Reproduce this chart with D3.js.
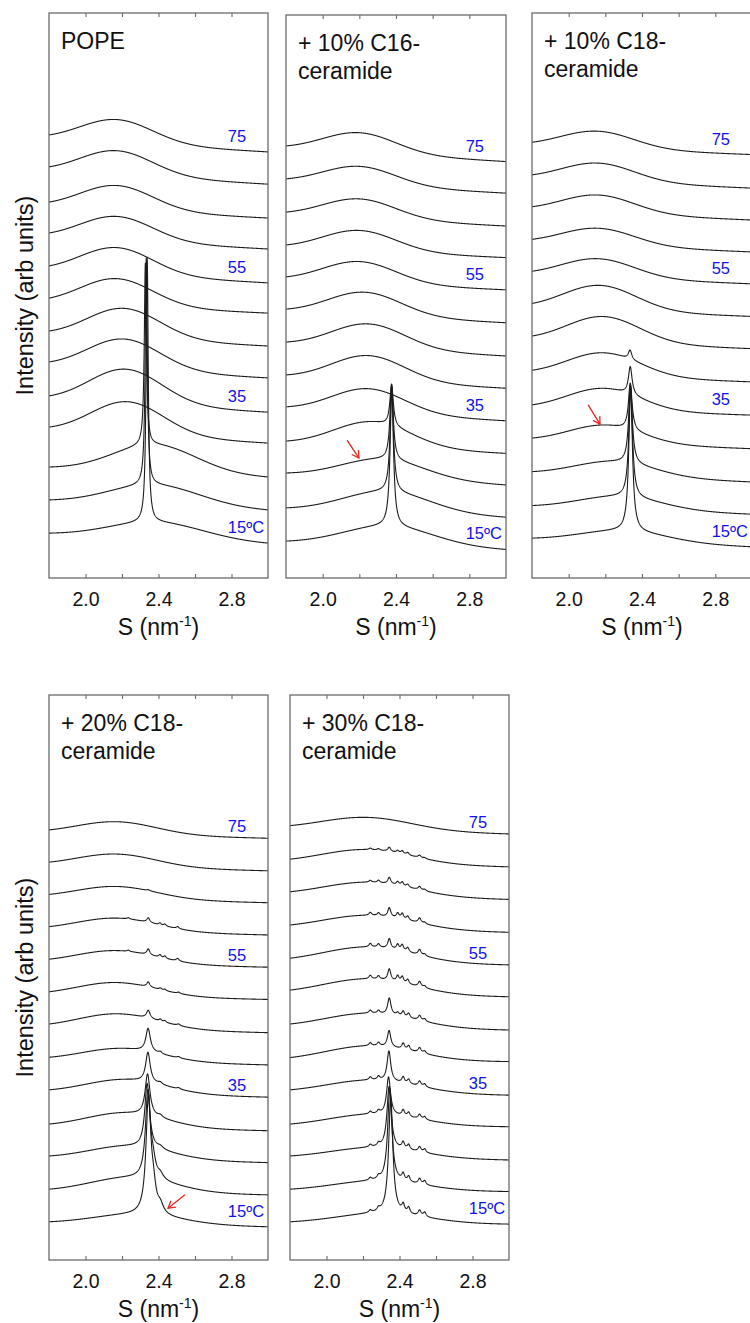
<!DOCTYPE html>
<html>
<head>
<meta charset="utf-8">
<script src="https://cdn.jsdelivr.net/npm/d3@7"></script>
<style>
  body { margin: 0; background: #fff; }
  svg { display: block; font-family: "Liberation Sans", Arial, sans-serif; }
</style>
</head>
<body>
<svg id="chart" width="750" height="1323"></svg>
<script>
'use strict';

// temperatures, bottom curve first
const temps = [15, 20, 25, 30, 35, 40, 45, 50, 55, 60, 65, 70, 75];
const labelIndex = [0, 4, 8, 12];
const labelText = ["15ºC", "35", "55", "75"];
const tickValues = [2.0, 2.2, 2.4, 2.6, 2.8];
const tickLabelValues = [2.0, 2.4, 2.8];

const panelTitles = [
  ["POPE"],
  ["+ 10% C16-", "ceramide"],
  ["+ 10% C18-", "ceramide"],
  ["+ 20% C18-", "ceramide"],
  ["+ 30% C18-", "ceramide"]
];

// each curve: level at left and right edge, a broad hump, and sharp reflections [S, height, half width]
const popeLeft = [13.5, 23.5, 33.4, 45.4, 54.8, 65.0, 74.3, 84.2, 93.9, 103.8, 113.1, 123.7, 133.3];
const popeRight = [10.5, 20.5, 30.4, 40.6, 49.9, 60.2, 69.8, 79.7, 88.8, 99.0, 108.3, 118.5, 128.2];
const popeHumpCenter = [2.39, 2.38, 2.38, 2.23, 2.22, 2.21, 2.21, 2.17, 2.17, 2.17, 2.17, 2.17, 2.17];
const popeHumpHeight = [5.1, 6.3, 8.4, 10.0, 10.5, 9.3, 9.1, 8.3, 8.1, 7.4, 7.4, 7.4, 7.1];
const popeHumpWidth = [0.26, 0.25, 0.23, 0.2, 0.2, 0.2, 0.2, 0.2, 0.2, 0.2, 0.2, 0.2, 0.2];
const popePeaks = [
  [[2.338, 79.7, 0.007]],
  [[2.333, 68.3, 0.007]],
  [[2.328, 54.8, 0.007]],
  [], [], [], [], [], [], [], [], [], []
];

const c16Left = [11.1, 21.1, 31.6, 41.2, 51.5, 61.1, 71.0, 80.9, 90.6, 100.2, 110.1, 120.1, 130.0];
const c16Right = [8.6, 18.3, 28.0, 37.5, 47.3, 57.1, 66.8, 76.8, 86.7, 96.4, 105.9, 115.8, 125.3];
const c16HumpCenter = [2.36, 2.35, 2.33, 2.27, 2.25, 2.25, 2.25, 2.23, 2.2, 2.2, 2.2, 2.2, 2.2];
const c16HumpHeight = [6.0, 6.5, 6.0, 7.6, 7.4, 7.7, 7.4, 7.0, 6.5, 6.2, 5.9, 5.7, 6.1];
const c16HumpWidth = [0.25, 0.24, 0.23, 0.21, 0.2, 0.2, 0.2, 0.2, 0.2, 0.2, 0.2, 0.2, 0.2];
const c16Peaks = [
  [[2.377, 41.0, 0.011]],
  [[2.377, 31.6, 0.011]],
  [[2.376, 22.5, 0.011]],
  [[2.376, 12.6, 0.011]],
  [], [], [], [], [], [], [], [], []
];

const c18aLeft = [12.0, 21.8, 32.0, 42.1, 52.1, 62.5, 72.8, 82.6, 92.3, 101.9, 111.7, 121.3, 131.1];
const c18aRight = [9.4, 19.2, 28.9, 38.9, 49.0, 59.0, 69.0, 78.7, 88.5, 98.1, 107.7, 117.3, 127.4];
const c18aHumpCenter = [2.3, 2.28, 2.25, 2.2, 2.19, 2.19, 2.19, 2.17, 2.16, 2.16, 2.16, 2.16, 2.155];
const c18aHumpHeight = [3.5, 4.0, 4.5, 5.4, 6.6, 7.1, 7.9, 7.6, 5.7, 5.2, 5.5, 5.5, 5.2];
const c18aHumpWidth = [0.24, 0.23, 0.22, 0.2, 0.2, 0.2, 0.2, 0.2, 0.2, 0.2, 0.2, 0.2, 0.2];
const c18aPeaks = [
  [[2.338, 43.0, 0.012]],
  [[2.338, 33.2, 0.012]],
  [[2.337, 23.7, 0.012]],
  [[2.336, 14.1, 0.012]],
  [[2.336, 8.4, 0.012]],
  [[2.335, 2.8, 0.011]],
  [], [], [], [], [], [], []
];

const c18bLeft = [11.5, 21.3, 31.3, 40.9, 51.2, 61.0, 71.0, 80.7, 90.5, 100.3, 110.0, 119.7, 129.4];
const c18bRight = [10.0, 19.6, 29.3, 38.9, 49.0, 58.7, 68.4, 78.4, 88.1, 97.8, 107.5, 117.1, 126.9];
const c18bHumpCenter = [2.28, 2.25, 2.24, 2.22, 2.22, 2.2, 2.18, 2.17, 2.17, 2.17, 2.17, 2.17, 2.17];
const c18bHumpHeight = [3.0, 4.5, 4.0, 4.5, 4.3, 3.9, 4.6, 4.2, 4.0, 4.0, 3.8, 3.9, 3.9];
const c18bHumpWidth = [0.24, 0.23, 0.22, 0.22, 0.22, 0.22, 0.22, 0.22, 0.22, 0.22, 0.22, 0.22, 0.22];
const c18bPeaks = [
  [[2.345, 35.0, 0.016], [2.372, 6.0, 0.016], [2.41, 2.5, 0.02]],
  [[2.342, 26.0, 0.016], [2.37, 4.0, 0.016], [2.41, 1.5, 0.02]],
  [[2.338, 19.4, 0.016], [2.41, 0.8, 0.02]],
  [[2.34, 12.5, 0.016], [2.41, 0.7, 0.015]],
  [[2.342, 9.0, 0.015], [2.41, 0.6, 0.012], [2.51, 0.4, 0.01]],
  [[2.343, 7.0, 0.015], [2.41, 0.6, 0.01], [2.51, 0.4, 0.01]],
  [[2.344, 2.4, 0.012], [2.41, 0.6, 0.008], [2.435, 0.5, 0.008], [2.51, 0.5, 0.01]],
  [[2.344, 1.5, 0.01], [2.41, 0.5, 0.008], [2.435, 0.4, 0.008], [2.51, 0.4, 0.01]],
  [[2.235, 0.4, 0.008], [2.344, 1.8, 0.01], [2.408, 0.8, 0.008], [2.435, 0.7, 0.008], [2.505, 0.8, 0.01]],
  [[2.235, 0.4, 0.008], [2.344, 1.4, 0.01], [2.408, 0.6, 0.008], [2.435, 0.6, 0.008], [2.505, 0.6, 0.01]],
  [[2.344, 0.3, 0.01]],
  [], []
];

const c18cLeft = [11.5, 21.3, 31.3, 40.9, 51.2, 60.9, 71.0, 81.2, 90.8, 100.8, 110.8, 120.6, 130.7];
const c18cRight = [10.8, 20.6, 30.1, 40.1, 49.6, 59.7, 69.2, 79.2, 88.8, 98.6, 108.5, 118.3, 128.2];
const c18cHumpCenter = [2.3, 2.28, 2.27, 2.26, 2.25, 2.24, 2.24, 2.23, 2.23, 2.23, 2.23, 2.22, 2.22];
const c18cHumpHeight = [3.0, 3.0, 3.3, 3.7, 4.0, 4.6, 4.5, 4.8, 4.8, 4.3, 4.3, 4.4, 4.0];
const c18cHumpWidth = [0.25, 0.25, 0.25, 0.25, 0.25, 0.25, 0.25, 0.25, 0.25, 0.25, 0.25, 0.25, 0.25];
const c18cPeaks = [
  [[2.24, 0.75, 0.009], [2.285, 0.9, 0.009], [2.352, 34.8, 0.014], [2.42, 2.25, 0.009], [2.45, 1.8, 0.009], [2.51, 1.65, 0.01], [2.538, 1.35, 0.009]],
  [[2.24, 0.75, 0.009], [2.285, 0.9, 0.009], [2.347, 28.0, 0.014], [2.42, 2.1, 0.009], [2.45, 1.65, 0.009], [2.51, 1.65, 0.01], [2.538, 1.2, 0.009]],
  [[2.24, 0.75, 0.009], [2.285, 0.9, 0.009], [2.343, 18.6, 0.014], [2.42, 1.95, 0.009], [2.45, 1.5, 0.009], [2.51, 1.5, 0.01], [2.538, 1.05, 0.009]],
  [[2.24, 0.75, 0.009], [2.285, 0.9, 0.009], [2.34, 11.4, 0.013], [2.42, 1.8, 0.009], [2.45, 1.35, 0.009], [2.51, 1.35, 0.01], [2.538, 0.9, 0.009]],
  [[2.24, 0.9, 0.009], [2.285, 1.05, 0.009], [2.342, 9.1, 0.012], [2.42, 1.8, 0.009], [2.45, 1.35, 0.009], [2.51, 1.5, 0.01], [2.538, 0.9, 0.009]],
  [[2.24, 0.9, 0.009], [2.285, 1.05, 0.009], [2.343, 5.0, 0.011], [2.42, 1.8, 0.009], [2.45, 1.35, 0.009], [2.51, 1.5, 0.01], [2.538, 0.75, 0.009]],
  [[2.24, 0.9, 0.009], [2.285, 0.9, 0.009], [2.344, 5.0, 0.011], [2.39, 0.9, 0.009], [2.42, 1.65, 0.009], [2.45, 1.35, 0.009], [2.51, 1.5, 0.01], [2.538, 0.75, 0.009]],
  [[2.24, 1.05, 0.009], [2.285, 1.05, 0.009], [2.344, 3.5, 0.01], [2.39, 1.8, 0.009], [2.415, 1.8, 0.009], [2.445, 1.35, 0.009], [2.51, 1.65, 0.01], [2.538, 0.6, 0.009]],
  [[2.24, 1.05, 0.009], [2.285, 1.05, 0.009], [2.344, 3.0, 0.01], [2.39, 1.65, 0.009], [2.415, 1.8, 0.009], [2.445, 1.35, 0.009], [2.51, 1.65, 0.01], [2.538, 0.6, 0.009]],
  [[2.24, 0.9, 0.009], [2.285, 0.9, 0.009], [2.344, 2.8, 0.01], [2.39, 1.5, 0.009], [2.415, 1.65, 0.009], [2.445, 1.2, 0.009], [2.51, 1.5, 0.01], [2.538, 0.45, 0.009]],
  [[2.24, 0.6, 0.009], [2.285, 0.75, 0.009], [2.344, 2.0, 0.01], [2.39, 1.05, 0.009], [2.415, 1.2, 0.009], [2.445, 0.9, 0.009], [2.51, 1.05, 0.01], [2.538, 0.45, 0.009]],
  [[2.24, 0.45, 0.009], [2.285, 0.45, 0.009], [2.344, 1.3, 0.01], [2.39, 0.75, 0.009], [2.415, 0.9, 0.009], [2.445, 0.75, 0.009], [2.51, 0.75, 0.01], [2.538, 0.3, 0.009]],
  []
];

// red arrows: panel, tail S, tail level, head S, head level
const arrows = [
  [1, 2.133, 41.5, 2.198, 36.1],
  [2, 2.106, 52.1, 2.171, 46.3],
  [3, 2.545, 19.6, 2.452, 15.6]
];

const sDomain = [1.8, 3.0];
const levelDomain = [0, 170];

// panel frames (px)
const panels = [
  { x0: 49, x1: 268, top: 13, bottom: 578 },
  { x0: 286, x1: 506, top: 15, bottom: 578 },
  { x0: 532, x1: 752, top: 13, bottom: 578 },
  { x0: 49, x1: 268, top: 695, bottom: 1260 },
  { x0: 290, x1: 509, top: 695, bottom: 1260 }
];
const series = [
  { left: popeLeft, right: popeRight, c: popeHumpCenter, h: popeHumpHeight, w: popeHumpWidth, peaks: popePeaks },
  { left: c16Left, right: c16Right, c: c16HumpCenter, h: c16HumpHeight, w: c16HumpWidth, peaks: c16Peaks },
  { left: c18aLeft, right: c18aRight, c: c18aHumpCenter, h: c18aHumpHeight, w: c18aHumpWidth, peaks: c18aPeaks },
  { left: c18bLeft, right: c18bRight, c: c18bHumpCenter, h: c18bHumpHeight, w: c18bHumpWidth, peaks: c18bPeaks },
  { left: c18cLeft, right: c18cRight, c: c18cHumpCenter, h: c18cHumpHeight, w: c18cHumpWidth, peaks: c18cPeaks }
];

const font = '"Liberation Sans", Arial, sans-serif';
const frameColor = "#6a6a6a";
const svg = d3.select("#chart");

// hump + reflections at S, then a straight background so the ends sit on the read levels
function profile(d, i, s) {
  let v = d.h[i] * Math.exp(-((s - d.c[i]) ** 2) / (2 * d.w[i] * d.w[i]));
  for (const [s0, a, g] of d.peaks[i]) {
    v += a * g * g / ((s - s0) ** 2 + g * g);
  }
  return v;
}

function curvePoints(d, i) {
  const l = d.left[i] - profile(d, i, sDomain[0]);
  const r = d.right[i] - profile(d, i, sDomain[1]);
  const pts = [];
  for (let k = 0; k <= 1200; k++) {
    const s = sDomain[0] + k * 0.001;
    const t = (s - sDomain[0]) / (sDomain[1] - sDomain[0]);
    pts.push([s, l + (r - l) * t + profile(d, i, s)]);
  }
  return pts;
}

panels.forEach((p, pi) => {
  const d = series[pi];
  const x = d3.scaleLinear().domain(sDomain).range([p.x0, p.x1]);
  const y = d3.scaleLinear().domain(levelDomain).range([p.bottom, p.bottom - 565]);
  const g = svg.append("g");

  const clipId = `clip-${pi}`;
  svg.append("clipPath").attr("id", clipId)
    .append("rect")
      .attr("x", p.x0).attr("y", p.top)
      .attr("width", p.x1 - p.x0).attr("height", p.bottom - p.top);

  const line = d3.line().x((q) => x(q[0])).y((q) => y(q[1]));

  g.append("g")
    .attr("clip-path", `url(#${clipId})`)
    .selectAll("path")
    .data(temps.map((t, i) => curvePoints(d, i)))
    .enter()
    .append("path")
      .attr("d", line)
      .attr("fill", "none")
      .attr("stroke", "#1c1c1c")
      .attr("stroke-width", 1.1)
      .attr("stroke-linejoin", "round");

  // inward ticks top and bottom
  const bottomAxis = d3.axisBottom(x)
    .tickValues(tickValues)
    .tickSizeInner(-4)
    .tickSizeOuter(0)
    .tickPadding(14)
    .tickFormat((v) => tickLabelValues.some((t) => Math.abs(t - v) < 1e-9) ? d3.format(".1f")(v) : "");
  const ga = g.append("g").attr("transform", `translate(0,${p.bottom})`).call(bottomAxis);
  ga.select(".domain").remove();
  ga.selectAll("line").attr("stroke", frameColor).attr("stroke-width", 1.1);
  ga.selectAll("text").attr("font-family", font).attr("font-size", 19.5).attr("fill", "#111");

  const gt = g.append("g").attr("transform", `translate(0,${p.top})`)
    .call(d3.axisTop(x).tickValues(tickValues).tickSizeInner(-4).tickSizeOuter(0).tickFormat(""));
  gt.select(".domain").remove();
  gt.selectAll("line").attr("stroke", frameColor).attr("stroke-width", 1.1);

  g.append("rect")
    .attr("x", p.x0).attr("y", p.top)
    .attr("width", p.x1 - p.x0).attr("height", p.bottom - p.top)
    .attr("fill", "none")
    .attr("stroke", frameColor)
    .attr("stroke-width", 1.3);

  // panel title
  const title = g.append("text")
    .attr("x", p.x0 + 12)
    .attr("y", p.top + 36)
    .attr("font-size", 23)
    .attr("fill", "#111");
  panelTitles[pi].forEach((ln, k) => {
    title.append("tspan").attr("x", p.x0 + 12).attr("dy", k === 0 ? 0 : 28).text(ln);
  });

  // temperature labels
  const gap = pi >= 3 ? 6 : 10;
  g.selectAll(".tlabel")
    .data(labelIndex)
    .enter()
    .append("text")
      .attr("class", "tlabel")
      .attr("x", x(2.78))
      .attr("y", (idx) => y(d.right[idx]) - (idx === 0 ? 10 : gap))
      .attr("font-size", 16.5)
      .attr("fill", "#1010ee")
      .text((idx, k) => labelText[k]);

  // x title
  const xt = g.append("text")
    .attr("x", (p.x0 + p.x1) / 2)
    .attr("y", p.bottom + 57)
    .attr("text-anchor", "middle")
    .attr("font-size", 23)
    .attr("fill", "#111");
  xt.append("tspan").text("S (nm");
  xt.append("tspan").attr("font-size", 14).attr("dy", -9).text("-1");
  xt.append("tspan").attr("dy", 9).text(")");

  if (p.x0 < 100) {
    g.append("text")
      .attr("transform", `translate(33,${(p.top + p.bottom) / 2}) rotate(-90)`)
      .attr("text-anchor", "middle")
      .attr("font-size", 23.5)
      .attr("fill", "#111")
      .text("Intensity (arb units)");
  }

  arrows.filter((a) => a[0] === pi).forEach(([, s1, v1, s2, v2]) => {
    const x1 = x(s1), y1 = y(v1), x2 = x(s2), y2 = y(v2);
    const ang = Math.atan2(y2 - y1, x2 - x1);
    const len = 8, spread = Math.PI / 6;
    const ag = g.append("g").attr("stroke", "#e8231d").attr("stroke-width", 1.3).attr("fill", "none");
    ag.append("line").attr("x1", x1).attr("y1", y1).attr("x2", x2).attr("y2", y2);
    ag.append("path").attr("d",
      `M${x2 - len * Math.cos(ang - spread)},${y2 - len * Math.sin(ang - spread)}` +
      `L${x2},${y2}` +
      `L${x2 - len * Math.cos(ang + spread)},${y2 - len * Math.sin(ang + spread)}`);
  });
});

svg.selectAll("text").attr("font-family", font);
</script>
</body>
</html>
